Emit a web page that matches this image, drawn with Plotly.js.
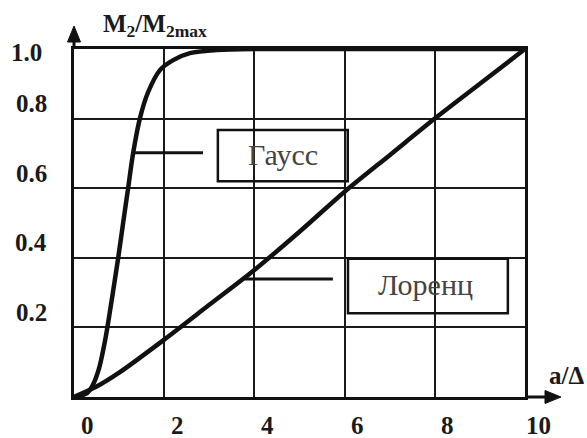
<!DOCTYPE html>
<html>
<head>
<meta charset="utf-8">
<script src="https://cdn.plot.ly/plotly-3.0.1.min.js"></script>
<style>
  html, body { margin: 0; padding: 0; background: #fff; }
  #chart { width: 587px; height: 438px; }
</style>
</head>
<body>
<div id="chart"></div>
<script>
// Normalised second moment M2/M2max versus a/Δ for Gaussian and Lorentzian lines
const gaussX = [0, 0.29, 0.42, 0.55, 0.7, 0.85, 0.98, 1.1, 1.2, 1.31, 1.46, 1.64, 1.91, 2.2, 2.57, 3.17, 4, 6, 8, 10];
const gaussY = [0, 0.011, 0.035, 0.08, 0.17, 0.29, 0.4, 0.51, 0.6, 0.7, 0.8, 0.875, 0.94, 0.968, 0.988, 0.997, 1, 1, 1, 1];

const lorentzX = [0, 0.5, 1, 2, 3, 4, 5, 6, 7, 8, 9, 10];
const lorentzY = [0, 0.03, 0.07, 0.165, 0.265, 0.365, 0.475, 0.59, 0.695, 0.8, 0.9, 1.0];

const xTickVals = [0, 2, 4, 6, 8, 10];
const xTickText = ['0', '2', '4', '6', '8', '10'];
const yTickVals = [0.2, 0.4, 0.6, 0.8, 1.0];
const yTickText = ['0.2', '0.4', '0.6', '0.8', '1.0'];

const seriesNames = ['Гаусс', 'Лоренц'];
const yTitle = 'M<sub>2</sub>/M<sub>2max</sub>';
const xTitle = 'a/Δ';

// plot-area geometry in pixels
const M = { l: 74, r: 62, t: 49, b: 41 };
const W = 587 - M.l - M.r;
const H = 438 - M.t - M.b;
const px = p => (p - M.l) / W;          // page x -> paper x
const py = p => (438 - M.b - p) / H;    // page y -> paper y

const SERIF = 'Liberation Serif';
const INK = '#111';

const curveStyle = { color: INK, width: 4.5, shape: 'spline', smoothing: 0.8 };

const traces = [
  { x: gaussX, y: gaussY, mode: 'lines', line: curveStyle, cliponaxis: false, hoverinfo: 'skip', name: seriesNames[0] },
  { x: lorentzX, y: lorentzY, mode: 'lines', line: curveStyle, cliponaxis: false, hoverinfo: 'skip', name: seriesNames[1] }
];

const annotations = [];
const tickFont = () => ({ family: SERIF, size: 25, color: '#1a1a1a', weight: 'bold' });

xTickVals.forEach((v, i) => annotations.push({
  x: v, xref: 'x', y: 0, yref: 'paper', text: xTickText[i],
  showarrow: false, xanchor: 'center', yanchor: 'middle', xshift: 13, yshift: -28, font: tickFont()
}));

yTickVals.forEach((v, i) => annotations.push({
  x: 0, xref: 'paper', y: v, yref: 'y', text: yTickText[i],
  showarrow: false, xanchor: 'center', yanchor: 'middle',
  xshift: v >= 1 ? -48 : -43, yshift: v >= 1 ? -3 : 15, font: tickFont()
}));

// axis names
annotations.push({
  x: px(155), xref: 'paper', y: py(25), yref: 'paper', text: yTitle,
  showarrow: false, xanchor: 'center', yanchor: 'middle', font: tickFont()
});
annotations.push({
  x: px(566), xref: 'paper', y: py(375), yref: 'paper', text: xTitle,
  showarrow: false, xanchor: 'center', yanchor: 'middle', font: tickFont()
});

// boxed curve labels
annotations.push({ x: 4.63, y: 0.697, text: seriesNames[0], showarrow: false, xanchor: 'center', yanchor: 'middle',
  font: { family: SERIF, size: 30, color: '#444' } });
annotations.push({ x: 7.8, y: 0.322, text: seriesNames[1], showarrow: false, xanchor: 'center', yanchor: 'middle',
  font: { family: SERIF, size: 30, color: '#444' } });

const shapes = [
  // label boxes
  { type: 'rect', xref: 'x', yref: 'y', x0: 3.19, x1: 6.07, y0: 0.62, y1: 0.767, line: { color: INK, width: 2.5 } },
  { type: 'rect', xref: 'x', yref: 'y', x0: 6.075, x1: 9.62, y0: 0.241, y1: 0.397, line: { color: INK, width: 2.5 } },
  // leader lines
  { type: 'line', xref: 'x', yref: 'y', x0: 1.31, x1: 2.86, y0: 0.702, y1: 0.702, line: { color: INK, width: 3 } },
  { type: 'line', xref: 'x', yref: 'y', x0: 3.79, x1: 5.74, y0: 0.339, y1: 0.339, line: { color: INK, width: 3 } },
  // axis extensions with arrowheads
  { type: 'line', xref: 'paper', yref: 'paper', x0: 0, x1: 0, y0: 1, y1: py(40), line: { color: INK, width: 3 } },
  { type: 'path', xref: 'paper', yref: 'paper',
    path: `M ${px(74)} ${py(26)} L ${px(67.5)} ${py(42)} L ${px(80.5)} ${py(42)} Z`,
    fillcolor: INK, line: { color: INK, width: 1 } },
  { type: 'line', xref: 'paper', yref: 'paper', x0: 1, x1: px(548), y0: 0, y1: 0, line: { color: INK, width: 3 } },
  { type: 'path', xref: 'paper', yref: 'paper',
    path: `M ${px(561)} ${py(397)} L ${px(545)} ${py(390.5)} L ${px(545)} ${py(403.5)} Z`,
    fillcolor: INK, line: { color: INK, width: 1 } }
];

const axisCommon = {
  showgrid: true, gridcolor: '#1a1a1a', gridwidth: 2,
  zeroline: false, showticklabels: false, ticks: '',
  showline: true, mirror: true, linecolor: INK, linewidth: 3, fixedrange: true
};

const layout = {
  width: 587, height: 438,
  margin: M,
  paper_bgcolor: '#fff', plot_bgcolor: '#fff',
  showlegend: false,
  xaxis: Object.assign({}, axisCommon, { range: [0, 10], tickvals: xTickVals }),
  yaxis: Object.assign({}, axisCommon, { range: [0, 1], tickvals: [0].concat(yTickVals) }),
  annotations: annotations,
  shapes: shapes
};

Plotly.newPlot('chart', traces, layout, { staticPlot: true, displayModeBar: false });
</script>
</body>
</html>
